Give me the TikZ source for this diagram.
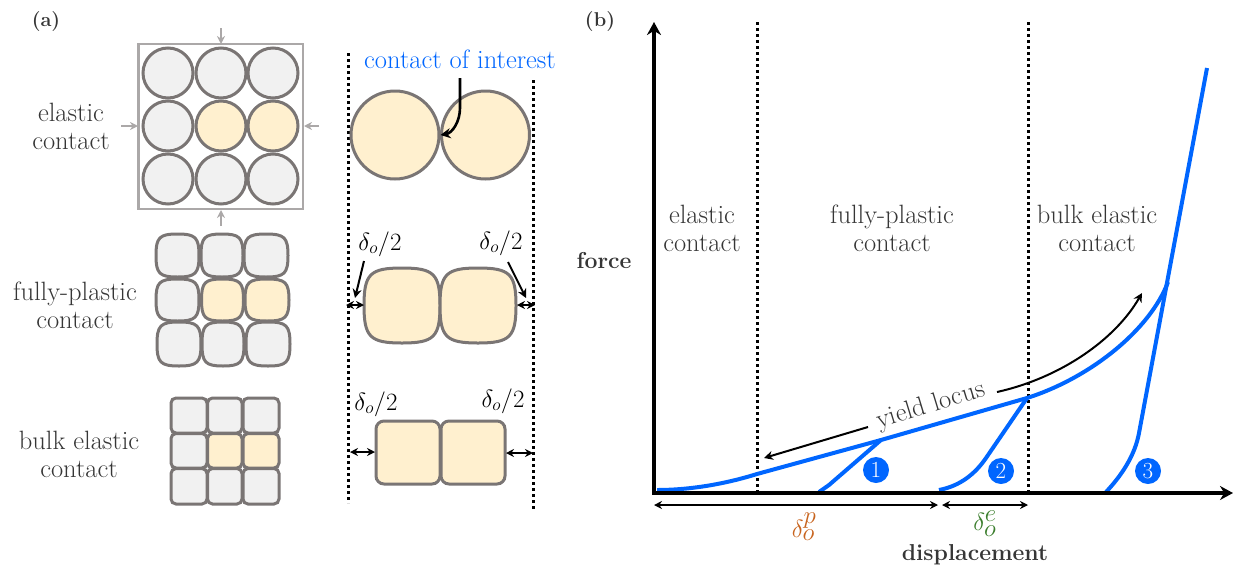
\documentclass[tikz,border=0pt]{standalone}
\usetikzlibrary{arrows.meta}
\definecolor{txt}{HTML}{363636}
\definecolor{cellgray}{HTML}{F1F1F1}
\definecolor{cellyel}{HTML}{FFF0CF}
\definecolor{edge}{HTML}{7A7574}
\definecolor{frame}{HTML}{ABA8A8}
\definecolor{blu}{HTML}{0066FF}
\definecolor{orng}{HTML}{C8641E}
\definecolor{grn}{HTML}{3A7D2C}
\tikzset{
  x=1pt,y=-1pt,
  lab/.style={font=\fontsize{26.5}{28}\selectfont,text=txt,align=center,inner sep=0pt},
  boldlab/.style={font=\fontsize{23}{26}\selectfont\bfseries,text=txt,inner sep=0pt},
  tag/.style={font=\fontsize{20}{24}\selectfont\bfseries,text=txt,inner sep=0pt},
  mathlab/.style={font=\fontsize{25.5}{28}\selectfont,text=black,inner sep=0pt},
  cell/.style={draw=edge,line width=3pt,circle,inner sep=0pt,minimum size=50pt},
  bigcell/.style={draw=edge,line width=3pt,circle,inner sep=0pt,minimum size=88pt,fill=cellyel},
  gcell/.style={fill=cellgray},
  ycell/.style={fill=cellyel},
  sq/.style={draw=edge,line width=3pt,line join=round},
  rbox/.style={draw=edge,line width=3pt,rounded corners=5pt},
  grayarrow/.style={draw=frame,line width=2pt,-{Stealth[length=8pt,width=8pt]}},
  dots/.style={line width=3pt,dash pattern=on 3pt off 3pt},
  axis/.style={line width=4.2pt,-{Stealth[length=13pt,width=14pt]}},
  curve/.style={draw=blu,line width=4pt,line join=round},
  dim/.style={line width=2pt,{Stealth[length=8pt,width=8pt]}-{Stealth[length=8pt,width=8pt]}},
  note/.style={line width=2pt,-{Stealth[length=9pt,width=9pt]}},
  num/.style={circle,fill=blu,text=white,inner sep=0pt,minimum size=26pt,font=\fontsize{23}{23}\selectfont},
}
% squircle: centre x, centre y, half width, half height, fill
\newcommand{\squircle}[5]{%
  \path[sq,fill=#5] (#1,#2-#4) .. controls (#1+0.84*#3,#2-#4) and (#1+#3,#2-0.84*#4) .. (#1+#3,#2)
   .. controls (#1+#3,#2+0.84*#4) and (#1+0.84*#3,#2+#4) .. (#1,#2+#4)
   .. controls (#1-0.84*#3,#2+#4) and (#1-#3,#2+0.84*#4) .. (#1-#3,#2)
   .. controls (#1-#3,#2-0.84*#4) and (#1-0.84*#3,#2-#4) .. (#1,#2-#4) -- cycle;}
\newcommand{\rcell}[5]{\path[rbox,fill=#5] (#1,#2) rectangle (#3,#4);}
\begin{document}
\begin{tikzpicture}
\useasboundingbox (0,0) rectangle (1233,565);
% ---- panel labels
\node[tag] (pa) at (46,22) {(a)};
\node[tag] (pb) at (600,22) {(b)};
% ---- row labels
\node[lab] (l1) at (71,126) {elastic\\contact};
\node[lab] (l2) at (75,305) {fully-plastic\\contact};
\node[lab] (l3) at (79,454) {bulk elastic\\contact};
% ---- elastic grid
\draw[frame,line width=2.6pt] (138.5,44) rectangle (303,209);
\node[cell,gcell] at (168,73) {};
\node[cell,gcell] at (221,73) {};
\node[cell,gcell] at (273,73) {};
\node[cell,gcell] at (168,126) {};
\node[cell,ycell] at (221,126) {};
\node[cell,ycell] at (273,126) {};
\node[cell,gcell] at (168,179) {};
\node[cell,gcell] at (221,179) {};
\node[cell,gcell] at (273,179) {};
\coordinate (t0) at (221,28); \coordinate (t1) at (221,44);
\coordinate (b0) at (221,226); \coordinate (b1) at (221,210);
\coordinate (w0) at (121,126); \coordinate (w1) at (138,126);
\coordinate (e0) at (319,126); \coordinate (e1) at (304,126);
\draw[grayarrow] (t0) -- (t1);
\draw[grayarrow] (b0) -- (b1);
\draw[grayarrow] (w0) -- (w1);
\draw[grayarrow] (e0) -- (e1);
% ---- plastic grid
\squircle{177.5}{255.5}{21.5}{21.5}{cellgray}
\squircle{222}{255.5}{21}{21.5}{cellgray}
\squircle{266}{255.5}{22}{21.5}{cellgray}
\squircle{177.5}{300}{21.5}{21}{cellgray}
\squircle{222.5}{300}{21}{21}{cellyel}
\squircle{267}{300}{22}{21}{cellyel}
\squircle{179}{344}{22}{22}{cellgray}
\squircle{223}{344}{21}{22}{cellgray}
\squircle{268}{344}{22}{22}{cellgray}
% ---- bulk grid
\rcell{171}{398}{207}{433}{cellgray}
\rcell{207.5}{398}{242}{433}{cellgray}
\rcell{243}{398}{279}{433}{cellgray}
\rcell{171}{433.5}{207}{468}{cellgray}
\rcell{207.5}{433.5}{242}{468}{cellyel}
\rcell{243}{433.5}{279}{468}{cellyel}
\rcell{171}{468.5}{207}{504}{cellgray}
\rcell{207.5}{468.5}{242}{504}{cellgray}
\rcell{243}{468.5}{279}{504}{cellgray}
% ---- contact pairs
\draw[dots] (348,53) -- (348,503);
\draw[dots] (533.5,80) -- (533.5,511);
\node[bigcell] (c1) at (395,135) {};
\node[bigcell] (c2) at (485.5,135) {};
\node[lab,text=blu] (coi) at (460,59) {contact of interest};
\coordinate (coiS) at (460,78);
\coordinate (coiE) at (440.5,135);
\draw[line width=2.6pt,-{Stealth[length=10pt,width=10pt]}] (coiS) -- (460,108) .. controls (460,122) and (452,133) .. (coiE);
\squircle{402}{305.5}{38}{37.5}{cellyel}
\squircle{478}{305.5}{38}{37.5}{cellyel}
\path[rbox,rounded corners=8pt,fill=cellyel] (376,421) rectangle (440,484);
\path[rbox,rounded corners=8pt,fill=cellyel] (441,421) rectangle (505,484);
\coordinate (a1) at (346,305); \coordinate (a2) at (364,305);
\coordinate (a3) at (517,305); \coordinate (a4) at (535,305);
\coordinate (a5) at (350,452); \coordinate (a6) at (375,452);
\coordinate (a7) at (506,453); \coordinate (a8) at (533,453);
\draw[dim] (a1) -- (a2);
\draw[dim] (a3) -- (a4);
\draw[dim] (a5) -- (a6);
\draw[dim] (a7) -- (a8);
\node[mathlab] (d1) at (380,244) {$\delta_o/2$};
\node[mathlab] (d2) at (501,243) {$\delta_o/2$};
\node[mathlab] (d3) at (376,404) {$\delta_o/2$};
\node[mathlab] (d4) at (503,401) {$\delta_o/2$};
\coordinate (n1) at (364,261); \coordinate (n2) at (355,298);
\coordinate (n3) at (508,262); \coordinate (n4) at (526,298);
\draw[note] (n1) -- (n2);
\draw[note] (n3) -- (n4);
% ---- panel (b)
\coordinate (O) at (654,493);
\coordinate (Ytip) at (654,22);
\coordinate (Xtip) at (1233,493);
\draw[dots] (757,22) -- (757,493);
\draw[dots] (1028,22) -- (1028,493);
\draw[curve] (819,492) -- (829,485) -- (881,440);
\draw[curve] (939,490) .. controls (960,486) and (975,474) .. (986,458) -- (1027,398);
\draw[curve] (1106,492) .. controls (1122,475) and (1135,455) .. (1139,433) -- (1207,68);
\draw[curve] (657,490) .. controls (690,490) and (725,484) .. (757,474) -- (881,440) -- (1027,398)
  .. controls (1090,378) and (1150,330) .. (1168,282);
\draw[axis,line cap=rect] (O) -- (Ytip);
\draw[axis,line cap=rect] (O) -- (Xtip);
\node[num] (k1) at (876,470) {1};
\node[num] (k2) at (1001,471) {2};
\node[num] (k3) at (1148,471) {3};
\node[lab] (r1) at (702,228) {elastic\\contact};
\node[lab] (r2) at (892,228) {fully-plastic\\contact};
\node[lab] (r3) at (1097,228) {bulk elastic\\contact};
\node[boldlab] (fy) at (604,261) {force};
\node[boldlab] (dx) at (975,555) {displacement};
\node[lab,rotate=17] (yl) at (931,406) {yield locus};
\coordinate (y1) at (868,427); \coordinate (y2) at (764,458);
\coordinate (y3) at (997,392); \coordinate (y4) at (1142,293);
\draw[note] (y1) -- (y2);
\draw[note] (y3) .. controls (1060,378) and (1115,340) .. (y4);
\coordinate (m0) at (654,505); \coordinate (m1) at (938,505);
\coordinate (m2) at (942,505); \coordinate (m3) at (1028,505);
\draw[dim] (m0) -- (m1);
\draw[dim] (m2) -- (m3);
\node[mathlab,text=orng,font=\fontsize{36}{38}\selectfont] (dp) at (804,527) {$\delta_o^p$};
\node[mathlab,text=grn,font=\fontsize{36}{38}\selectfont] (de) at (985,524) {$\delta_o^e$};
\end{tikzpicture}
\end{document}
